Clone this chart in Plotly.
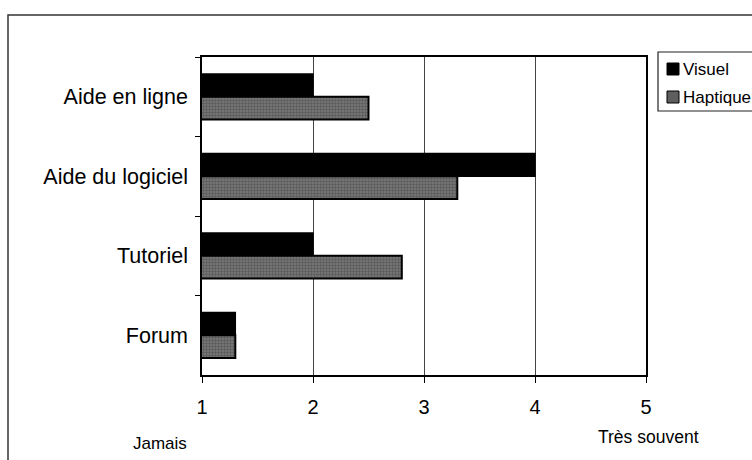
import plotly.graph_objects as go

# Usage frequency ratings per help resource (1 = Jamais, 5 = Très souvent)
categories = ["Aide en ligne", "Aide du logiciel", "Tutoriel", "Forum"]
visuel = [2.0, 4.0, 2.0, 1.3]
haptique = [2.5, 3.3, 2.8, 1.3]
x_ticks = [1, 2, 3, 4, 5]
series_names = ["Visuel", "Haptique"]

W, H = 752, 460
ML, MR, MT, MB = 202, 106, 57, 85
PW, PH = W - ML - MR, H - MT - MB
FONT = "Liberation Sans, Arial, Helvetica, sans-serif"
HAPTIC_PATTERN = dict(shape=".", fgcolor="#3a3a3a", bgcolor="#7a7a7a",
                      size=3, solidity=0.5)


def px(x):
    return (x - ML) / PW


def py(y):
    return (H - MB - y) / PH


fig = go.Figure()
fig.add_trace(go.Bar(
    y=categories, x=visuel, orientation="h", name=series_names[0],
    marker=dict(color="#000000", line=dict(color="#000000", width=1.5)),
))
fig.add_trace(go.Bar(
    y=categories, x=haptique, orientation="h", name=series_names[1],
    marker=dict(color="#6e6e6e", line=dict(color="#000000", width=2),
                pattern=HAPTIC_PATTERN),
))

shapes = [
    # outer chart frame
    dict(type="rect", xref="paper", yref="paper",
         x0=px(8), x1=px(790), y0=py(500), y1=py(15),
         line=dict(color="#333333", width=1.5), fillcolor="rgba(0,0,0,0)"),
    # legend box
    dict(type="rect", xref="paper", yref="paper",
         x0=px(658), x1=px(800), y0=py(111), y1=py(52),
         line=dict(color="#222222", width=1.2), fillcolor="white"),
    # legend swatches
    dict(type="rect", xref="paper", yref="paper",
         x0=px(667), x1=px(679), y0=py(75), y1=py(63),
         line=dict(color="#000000", width=1), fillcolor="#000000"),
    dict(type="rect", xref="paper", yref="paper",
         x0=px(667), x1=px(679), y0=py(103), y1=py(91),
         line=dict(color="#000000", width=1), fillcolor="#5e5e5e"),
]

annotations = [
    dict(text=series_names[0], xref="paper", yref="paper", x=px(681), y=py(69),
         xanchor="left", yanchor="middle", showarrow=False,
         font=dict(family=FONT, size=17, color="#000")),
    dict(text=series_names[1], xref="paper", yref="paper", x=px(681), y=py(97),
         xanchor="left", yanchor="middle", showarrow=False,
         font=dict(family=FONT, size=17, color="#000")),
    dict(text="Jamais", xref="paper", yref="paper", x=px(160), y=py(443),
         xanchor="center", yanchor="middle", showarrow=False,
         font=dict(family=FONT, size=17, color="#000")),
    dict(text="Très souvent", xref="paper", yref="paper", x=px(648), y=py(437),
         xanchor="center", yanchor="middle", showarrow=False,
         font=dict(family=FONT, size=17.5, color="#000")),
]

fig.update_layout(
    width=W, height=H,
    margin=dict(l=ML, r=MR, t=MT, b=MB, autoexpand=False),
    paper_bgcolor="white", plot_bgcolor="white",
    barmode="group", bargap=0.43, bargroupgap=0,
    showlegend=False,
    shapes=shapes, annotations=annotations,
    font=dict(family=FONT, color="#000"),
    xaxis=dict(
        range=[1, 5], tickvals=x_ticks, ticktext=[str(t) for t in x_ticks],
        showgrid=True, gridcolor="#444444", gridwidth=1,
        showline=True, linecolor="#000000", linewidth=1.5, mirror=True,
        ticks="outside", ticklen=6, tickcolor="#000000",
        ticklabelstandoff=7,
        tickfont=dict(family=FONT, size=20, color="#000"),
        zeroline=False, fixedrange=True,
    ),
    yaxis=dict(
        categoryorder="array", categoryarray=categories, autorange="reversed",
        showline=True, linecolor="#000000", linewidth=1.5, mirror=True,
        ticks="outside", ticklen=5, tickcolor="#000000", tickson="boundaries",
        ticklabelstandoff=8,
        tickfont=dict(family=FONT, size=21.5, color="#000"),
        showgrid=False, fixedrange=True,
    ),
)

fig.write_html("out.html")
